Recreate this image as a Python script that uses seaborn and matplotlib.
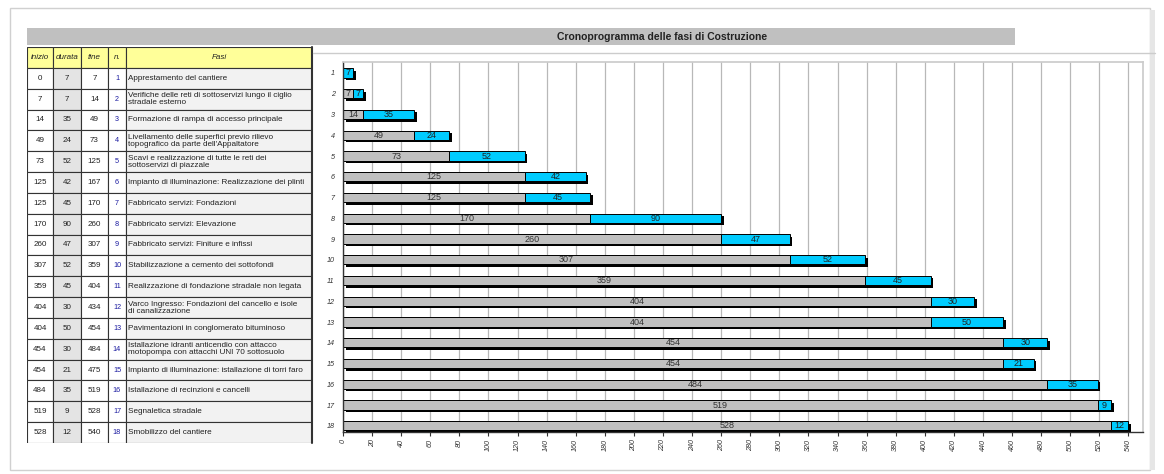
import numpy as np
import pandas as pd
import matplotlib
matplotlib.use('Agg')
import matplotlib.pyplot as plt
import matplotlib.patheffects as pe
from matplotlib.patches import Rectangle
import seaborn as sns

# dati del cronoprogramma
inizio = [0, 7, 14, 49, 73, 125, 125, 170, 260, 307, 359, 404, 404, 454, 454, 484, 519, 528]
durata = [7, 7, 35, 24, 52, 42, 45, 90, 47, 52, 45, 30, 50, 30, 21, 35, 9, 12]
fine = [7, 14, 49, 73, 125, 167, 170, 260, 307, 359, 404, 434, 454, 484, 475, 519, 528, 540]
numero = [str(i) for i in range(1, 19)]
fasi = [
    "Apprestamento del cantiere",
    "Verifiche delle reti di sottoservizi lungo il ciglio\nstradale esterno",
    "Formazione di rampa di accesso principale",
    "Livellamento delle superfici previo rilievo\ntopografico da parte dell'Appaltatore",
    "Scavi e realizzazione di tutte le reti dei\nsottoservizi di piazzale",
    "Impianto di illuminazione: Realizzazione dei plinti",
    "Fabbricato servizi: Fondazioni",
    "Fabbricato servizi: Elevazione",
    "Fabbricato servizi: Finiture e infissi",
    "Stabilizzazione a cemento dei sottofondi",
    "Realizzazione di fondazione stradale non legata",
    "Varco Ingresso: Fondazioni del cancello e isole\ndi canalizzazione",
    "Pavimentazioni in conglomerato bituminoso",
    "Istallazione idranti anticendio con attacco\nmotopompa con attacchi UNI 70 sottosuolo",
    "Impianto di illuminazione: istallazione di torri faro",
    "Istallazione di recinzioni e cancelli",
    "Segnaletica stradale",
    "Smobilizzo del cantiere",
]
intestazioni = ["inizio", "durata", "fine", "n.", "Fasi"]
titolo = "Cronoprogramma delle fasi di Costruzione"
x_ticks = list(range(0, 541, 20))

df = pd.DataFrame({'n': numero, 'inizio': inizio, 'durata': durata, 'fine': fine, 'fase': fasi})

sns.set_theme(style='white')
plt.rcParams['font.family'] = ['Liberation Sans', 'DejaVu Sans']

W, H = 1164, 474
fig = plt.figure(figsize=(W / 100, H / 100), dpi=100)
fig.patch.set_facecolor('white')


def fx(px):
    return px / W


def fy(py):
    return 1 - py / H


# cornice e banda del titolo
fig.add_artist(Rectangle((fx(10), fy(470)), fx(1140), 462 / H, transform=fig.transFigure,
                         facecolor='none', edgecolor='#d0d0d0', lw=1.0))
fig.add_artist(Rectangle((fx(1150), fy(470)), fx(5), 460 / H, transform=fig.transFigure,
                         facecolor='#e6e6e6', edgecolor='none'))
fig.add_artist(Rectangle((fx(27), fy(45)), fx(988), 17 / H, transform=fig.transFigure,
                         facecolor='#c0c0c0', edgecolor='none'))
fig.text(fx(662), fy(36.5), titolo, ha='center', va='center', fontsize=7.5,
         fontweight='bold', color='#222222')
fig.add_artist(plt.Line2D([fx(313), fx(1155)], [fy(53), fy(53)], transform=fig.transFigure,
                          color='#cccccc', lw=1.0))

# ---- tabella a sinistra ----
tab = fig.add_axes([fx(27), fy(443), fx(285), 396 / H])
tab.set_xlim(0, 285)
tab.set_ylim(19, 0)
tab.axis('off')
col_x = [0, 26, 54, 81, 99, 285]
for j, nome in enumerate(intestazioni):
    tab.add_patch(Rectangle((col_x[j], 0), col_x[j + 1] - col_x[j], 1,
                            facecolor='#ffff99', edgecolor='#333333', lw=0.8))
    tab.text((col_x[j] + col_x[j + 1]) / 2, 0.5, nome, ha='center', va='center',
             fontsize=5.8, style='italic', color='#222222')
for i, row in df.iterrows():
    r = i + 1
    valori = [str(row['inizio']), str(row['durata']), str(row['fine']), row['n']]
    colori_sfondo = ['white', '#e4e4e4', 'white', 'white', '#f2f2f2']
    for j in range(5):
        tab.add_patch(Rectangle((col_x[j], r), col_x[j + 1] - col_x[j], 1,
                                facecolor=colori_sfondo[j], edgecolor='#333333', lw=0.8))
    for j, v in enumerate(valori):
        tab.text((col_x[j] + col_x[j + 1]) / 2, r + 0.5, v, ha='center', va='center',
                 fontsize=5.8 if j < 3 else 5.2, color='#1a1aa0' if j == 3 else '#222222')
    tab.text(col_x[4] + 2, r + 0.5, row['fase'], ha='left', va='center', fontsize=5.9,
             color='#222222', linespacing=1.0)
tab.plot([285, 285], [0, 19], color='#333333', lw=1.5, clip_on=False)

# ---- diagramma di Gantt ----
ax = fig.add_axes([fx(343), fy(432), fx(800), 370 / H])
sns.barplot(data=df, y='n', x='fine', order=numero, orient='h', color='#00ccff',
            width=0.45, saturation=1, edgecolor='black', linewidth=0.7, ax=ax)
for p in ax.patches:
    p.set_path_effects([pe.SimplePatchShadow(offset=(1.8, -1.8), shadow_rgbFace='black', alpha=1),
                        pe.Normal()])
sns.barplot(data=df, y='n', x='inizio', order=numero, orient='h', color='#c0c0c0',
            width=0.45, saturation=1, edgecolor='black', linewidth=0.7, ax=ax)

# etichette: inizio al centro della parte grigia, durata al centro della parte azzurra
for i, row in df.iterrows():
    if row['inizio'] > 0:
        ax.text(row['inizio'] / 2, i, str(row['inizio']), ha='center', va='center',
                fontsize=6.5, color='#333333')
    ax.text(row['inizio'] + row['durata'] / 2, i, str(row['durata']), ha='center',
            va='center', fontsize=6.5, color='#222222')

ax.set_xlim(0, 550)
ax.set_ylim(17.3, -0.53)
ax.set_xticks(x_ticks)
ax.set_xticklabels([str(t) for t in x_ticks], rotation=90, fontsize=5.2, style='italic',
                   color='#333333')
ax.set_yticks(range(len(numero)))
ax.set_yticklabels(numero, fontsize=5.2, style='italic', color='#333333')
ax.set_xlabel('')
ax.set_ylabel('')
ax.xaxis.grid(True, color='#b8b8b8', lw=0.9)
ax.yaxis.grid(False)
ax.set_axisbelow(True)
ax.tick_params(axis='x', length=3, width=0.8, color='#333333', pad=2, bottom=True)
ax.tick_params(axis='y', length=0, pad=6)
for s in ['top', 'right']:
    ax.spines[s].set_color('#cccccc')
for s in ['left', 'bottom']:
    ax.spines[s].set_color('#333333')
    ax.spines[s].set_linewidth(1.0)

fig.savefig('out.png', dpi=100)
